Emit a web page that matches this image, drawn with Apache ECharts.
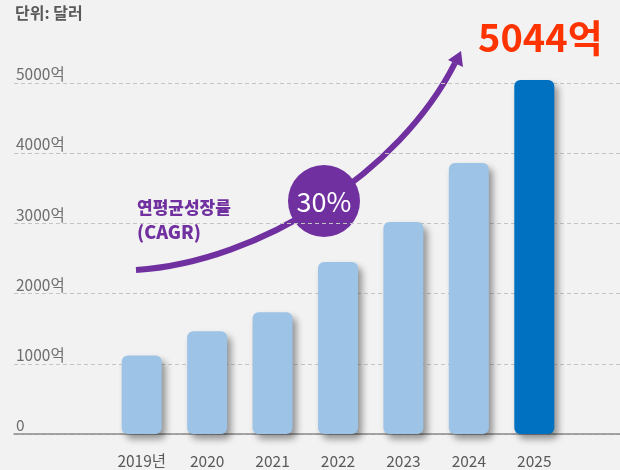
<!DOCTYPE html>
<html>
<head>
    <meta charset="utf-8">
    <script src="https://cdn.jsdelivr.net/npm/echarts@6/dist/echarts.min.js"></script>
    <style>
        html, body { margin: 0; padding: 0; background: #f2f2f2; }
        #chart { width: 620px; height: 470px; }
    </style>
</head>
<body>
    <div id="chart"></div>
    <script type="text/javascript">
        // 연도별 시장 규모 (억 달러)
        var years = ['2019년', '2020', '2021', '2022', '2023', '2024', '2025'];
        var sizes = [1120, 1465, 1735, 2450, 3020, 3860, 5044];
        var highlightYear = '2025';
        var cagrText = '30%';
        var totalText = '5044억';

        var FONT = '"Noto Sans CJK KR", "Noto Sans", sans-serif';

        var barData = sizes.map(function (v, i) {
            var hot = years[i] == highlightYear;
            return {
                value: v,
                itemStyle: { color: hot ? '#0070c0' : '#9dc3e6' }
            };
        });

        // 성장 화살표 곡선
        var p0 = [136, 270], p1 = [260, 262], p2 = [400, 172], p3 = [455, 63];
        var tip = [461, 51];

        var option = {
            backgroundColor: '#f2f2f2',
            animation: false,
            textStyle: { fontFamily: FONT },
            grid: [
                { left: 14, right: 0, top: 83, bottom: 36 },
                { left: 109, right: 53, top: 83, bottom: 36 }
            ],
            xAxis: [
                {
                    gridIndex: 0, type: 'value', min: 0, max: 1,
                    axisLine: { show: true, onZero: false, lineStyle: { color: '#8c8c8c', width: 1.5 } },
                    axisTick: { show: false },
                    axisLabel: { show: false },
                    splitLine: { show: false }
                },
                {
                    gridIndex: 1, type: 'category', data: years,
                    axisLine: { show: false },
                    axisTick: { show: false },
                    axisLabel: { color: '#595959', fontSize: 15.5, margin: 19, fontFamily: FONT }
                }
            ],
            yAxis: [
                {
                    gridIndex: 0, type: 'value', min: 0, max: 5000, interval: 1000,
                    axisLine: { show: false },
                    axisTick: { show: false },
                    axisLabel: {
                        inside: true, margin: 2, align: 'left', verticalAlign: 'bottom',
                        color: '#6e6e6e', fontSize: 15.5, fontFamily: FONT,
                        padding: [0, 0, 1, 0],
                        formatter: function (v) { return v == 0 ? '0' : v + '억'; }
                    },
                    splitLine: { lineStyle: { color: '#c4c4c4', type: [4, 3], width: 1.2 } }
                },
                {
                    gridIndex: 1, type: 'value', min: 0, max: 5000, show: false,
                    splitLine: { show: false }
                }
            ],
            series: [
                {
                    type: 'bar',
                    xAxisIndex: 1, yAxisIndex: 1,
                    barWidth: 40,
                    clip: false,
                    data: barData,
                    itemStyle: {
                        borderRadius: 6,
                        shadowColor: 'rgba(0,0,0,0.4)',
                        shadowBlur: 7,
                        shadowOffsetX: 4,
                        shadowOffsetY: 5
                    }
                }
            ],
            graphic: [
                {
                    type: 'text', left: 15, top: 5,
                    style: { text: '단위: 달러', fill: '#595959', font: 'bold 16px ' + FONT }
                },
                {
                    type: 'text', left: 478, top: 19,
                    style: { text: totalText, fill: '#ff3300', font: 'bold 38px ' + FONT }
                },
                {
                    type: 'bezierCurve',
                    shape: { x1: p0[0], y1: p0[1], cpx1: p1[0], cpy1: p1[1], cpx2: p2[0], cpy2: p2[1], x2: p3[0], y2: p3[1] },
                    style: { stroke: '#7030a0', lineWidth: 6, fill: null }
                },
                {
                    type: 'polygon',
                    shape: { points: [tip, [463, 67], [448, 60]] },
                    style: { fill: '#7030a0' }
                },
                {
                    type: 'circle',
                    shape: { cx: 324, cy: 201, r: 36 },
                    style: { fill: '#7030a0' }
                },
                {
                    type: 'text', x: 324, y: 202,
                    style: { text: cagrText, fill: '#ffffff', font: '27px ' + FONT, align: 'center', verticalAlign: 'middle' }
                },
                {
                    type: 'text', left: 137, top: 199,
                    style: { text: '연평균성장률', fill: '#7030a0', font: '900 17px ' + FONT }
                },
                {
                    type: 'text', left: 137, top: 223,
                    style: { text: '(CAGR)', fill: '#7030a0', font: '900 18px ' + FONT }
                }
            ]
        };

        var myChart = echarts.init(document.getElementById('chart'));
        myChart.setOption(option);
    </script>
</body>
</html>
